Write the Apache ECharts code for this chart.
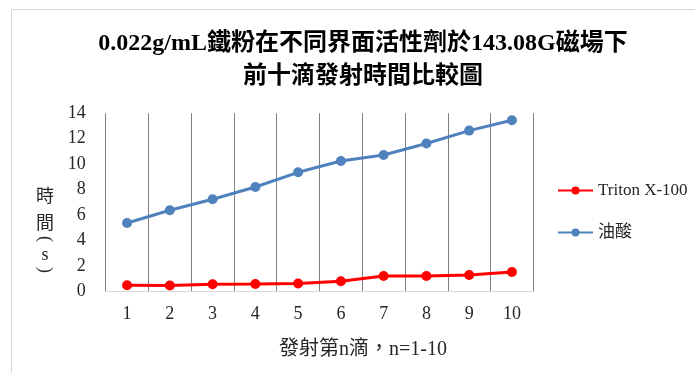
<!DOCTYPE html>
<html>
<head>
<meta charset="utf-8">
<script src="https://cdn.jsdelivr.net/npm/echarts@6/dist/echarts.min.js"></script>
<style>
  html, body { margin: 0; padding: 0; background: #fff; }
  #chart { width: 695px; height: 373px; }
</style>
</head>
<body>
<div id="chart"></div>
<script>
// Drop index n = 1..10
const drops = ['1', '2', '3', '4', '5', '6', '7', '8', '9', '10'];
// Launch time (s) for each surfactant
const tritonX100 = [0.47, 0.45, 0.55, 0.57, 0.62, 0.79, 1.2, 1.2, 1.28, 1.52];
const oleicAcid = [5.37, 6.37, 7.24, 8.2, 9.36, 10.25, 10.72, 11.62, 12.64, 13.45];
const yTicks = { min: 0, max: 14, interval: 2 };

const FONT = "'Liberation Serif', 'Noto Sans CJK TC', serif";
const TEXT = '#262626';

const chart = echarts.init(document.getElementById('chart'), null, { renderer: 'canvas' });

function label(text, x, y, size, extra) {
  return Object.assign({
    type: 'text', x: x, y: y, silent: true,
    style: { text: text, font: size + 'px ' + FONT, fill: TEXT, align: 'center', verticalAlign: 'middle' }
  }, extra || {});
}

chart.setOption({
  animation: false,
  backgroundColor: '#fff',
  title: {
    text: '0.022g/mL鐵粉在不同界面活性劑於143.08G磁場下\n前十滴發射時間比較圖',
    left: 358,
    textAlign: 'center',
    top: 22,
    textStyle: {
      fontFamily: FONT,
      fontWeight: 'bold',
      fontSize: 24,
      lineHeight: 33,
      color: '#000'
    }
  },
  legend: {
    orient: 'vertical',
    left: 552,
    top: 177,
    itemWidth: 35,
    itemHeight: 10,
    itemGap: 25,
    textStyle: { fontFamily: FONT, fontSize: 17, color: TEXT },
    data: ['Triton X-100', '油酸']
  },
  grid: {
    left: 105.7,
    right: 161.7,
    top: 113.3,
    bottom: 81.7,
    containLabel: false
  },
  xAxis: {
    type: 'category',
    data: drops,
    boundaryGap: true,
    axisLine: { show: true, lineStyle: { color: '#d9d9d9', width: 1 } },
    axisTick: { show: false },
    axisLabel: { fontFamily: FONT, fontSize: 18, color: TEXT, margin: 14 },
    splitLine: { show: true, lineStyle: { color: '#7f7f7f', width: 1 } }
  },
  yAxis: {
    type: 'value',
    min: yTicks.min,
    max: yTicks.max,
    interval: yTicks.interval,
    axisLine: { show: false },
    axisTick: { show: false },
    axisLabel: { fontFamily: FONT, fontSize: 18, color: TEXT, margin: 20 },
    splitLine: { show: false }
  },
  graphic: [
    {
      type: 'rect',
      silent: true,
      shape: { x: 11.5, y: 9.5, width: 720, height: 420 },
      style: { fill: 'none', stroke: '#d9d9d9', lineWidth: 1 }
    },
    // Horizontal axis title
    label('發射第n滴，n=1-10', 363, 350, 20),
    // Vertical axis title, stacked character by character (brackets turned sideways)
    label('時', 45, 197, 18),
    label('間', 45, 224, 18),
    label('(', 45, 239, 18, { rotation: -Math.PI / 2 }),
    label('s', 45, 255, 18),
    label(')', 45, 270, 18, { rotation: -Math.PI / 2 })
  ],
  series: [
    {
      name: 'Triton X-100',
      type: 'line',
      data: tritonX100,
      symbol: 'circle',
      symbolSize: 10,
      itemStyle: { color: '#ff0000' },
      lineStyle: { color: '#ff0000', width: 3 }
    },
    {
      name: '油酸',
      type: 'line',
      data: oleicAcid,
      symbol: 'circle',
      symbolSize: 10,
      itemStyle: { color: '#4f81bd' },
      lineStyle: { color: '#4f81bd', width: 3 }
    }
  ]
});
</script>
</body>
</html>
